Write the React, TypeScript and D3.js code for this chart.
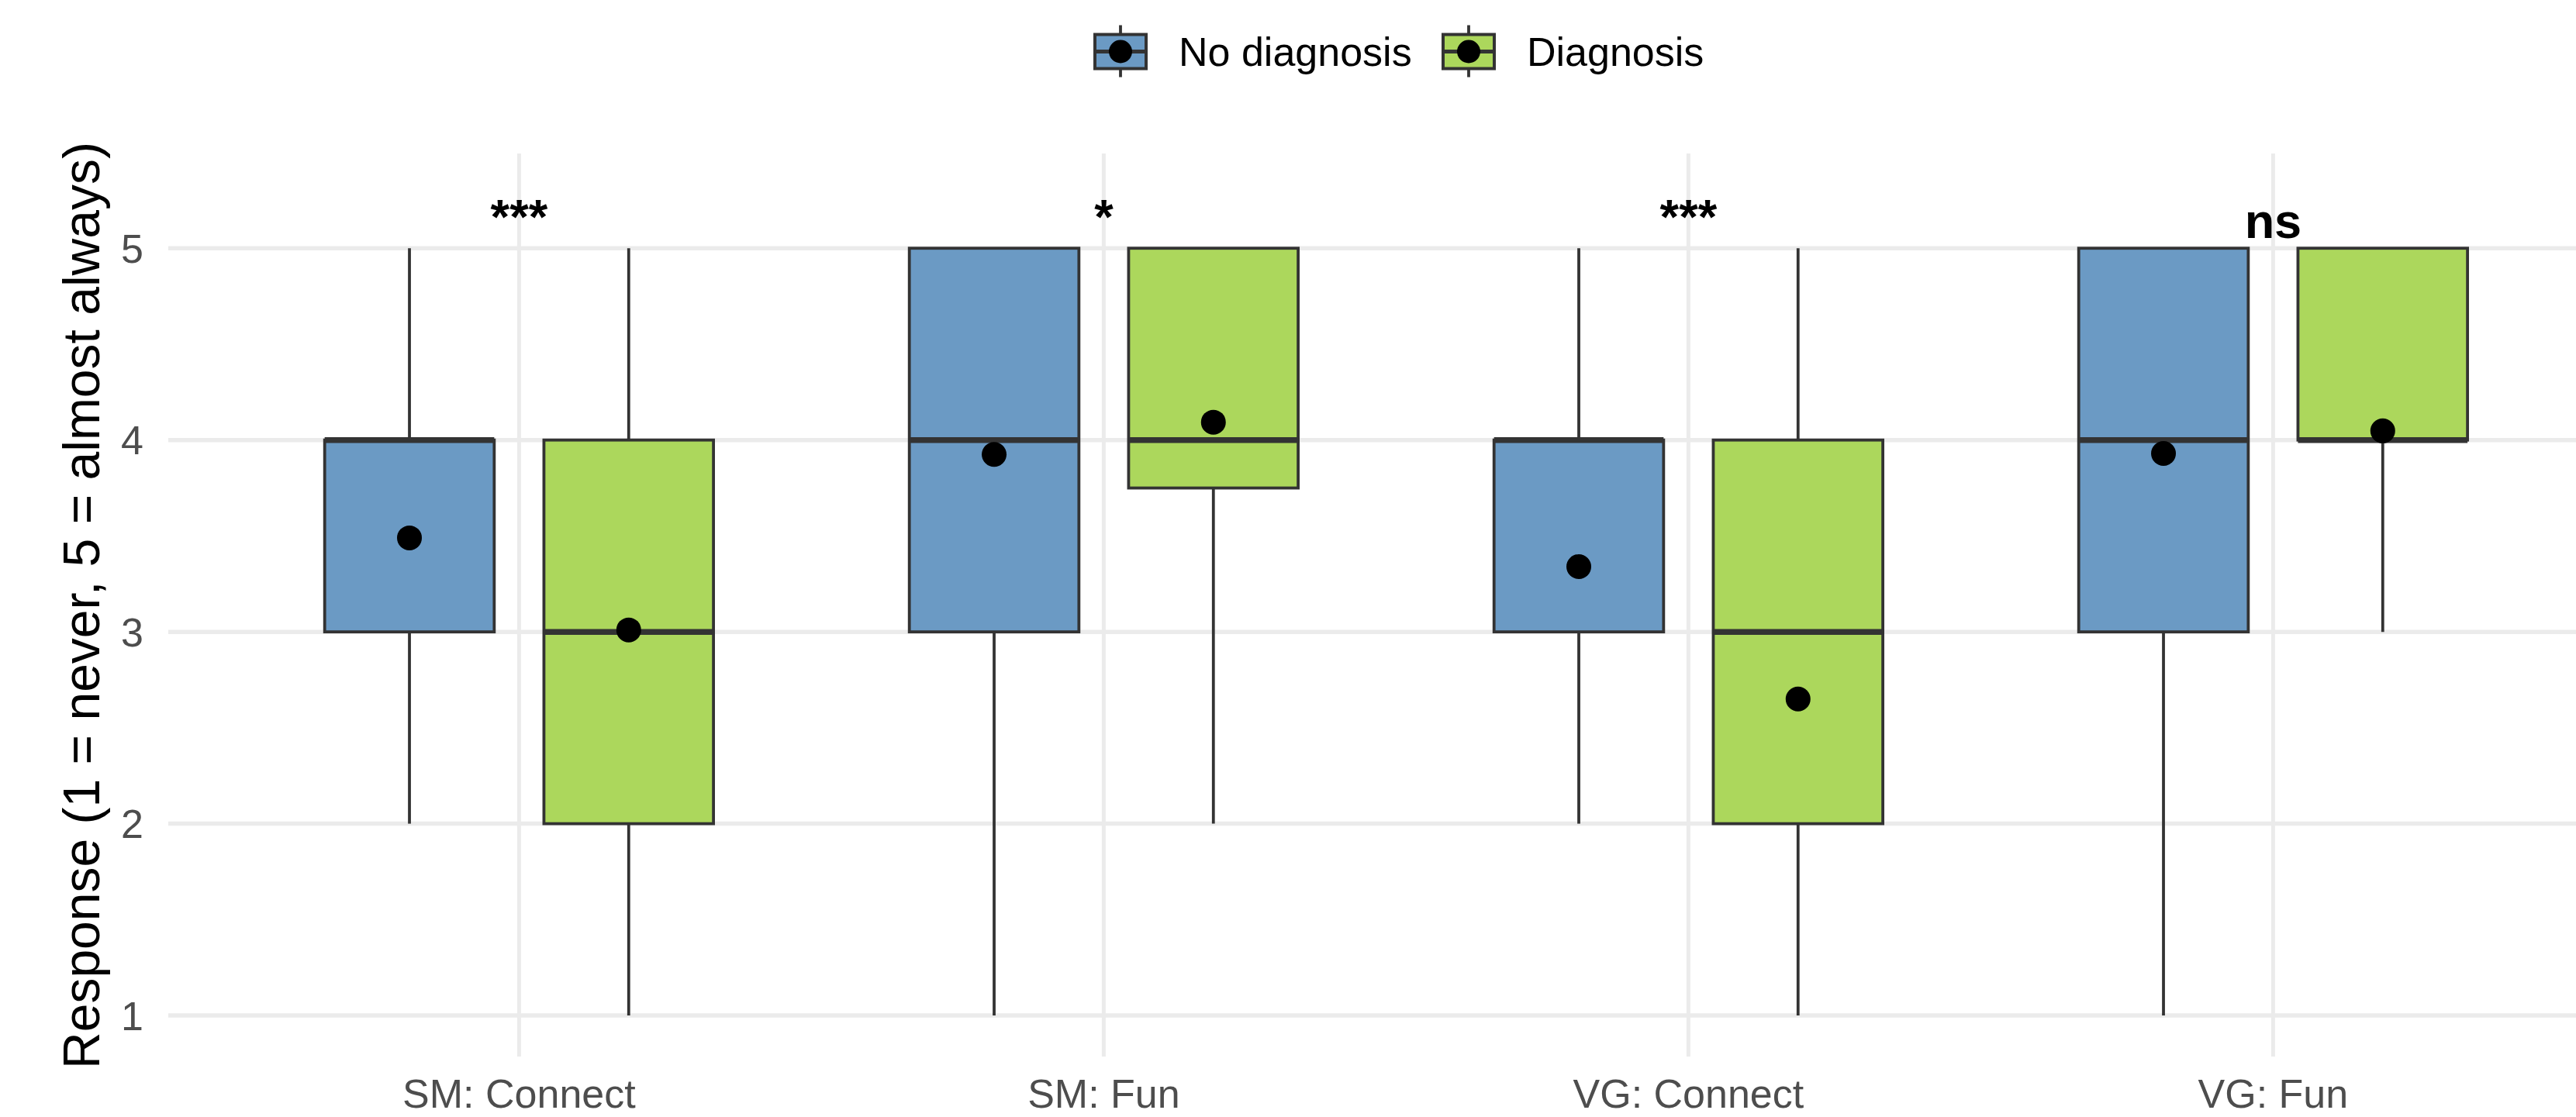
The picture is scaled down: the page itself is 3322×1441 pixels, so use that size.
import React from "react";
import * as d3 from "d3";

const categories = ["SM: Connect", "SM: Fun", "VG: Connect", "VG: Fun"];
const groups = ["No diagnosis", "Diagnosis"];
const groupColors = ["#6B9AC4", "#ACD75C"];

// No diagnosis series
const noDiagLow = [2, 1, 2, 1];
const noDiagQ1 = [3, 3, 3, 3];
const noDiagMedian = [4, 4, 4, 4];
const noDiagQ3 = [4, 5, 4, 5];
const noDiagHigh = [5, 5, 5, 5];
const noDiagMean = [3.49, 3.925, 3.34, 3.93];

// Diagnosis series
const diagLow = [1, 2, 1, 3];
const diagQ1 = [2, 3.75, 2, 4];
const diagMedian = [3, 4, 3, 4];
const diagQ3 = [4, 5, 4, 5];
const diagHigh = [5, 5, 5, 5];
const diagMean = [3.01, 4.093, 2.65, 4.048];

const sigLabels = ["***", "*", "***", "ns"];
const sigY = 5.055;
const yTicks = [1, 2, 3, 4, 5];
const yTitle = "Response (1 = never, 5 = almost always)";

const W = 3322;
const H = 1441;
const FONT = "'Liberation Sans', Arial, Helvetica, sans-serif";

export default function App() {
  const panelLeft = 217;
  const unit = 754;
  const panelTop = 198;
  const panelBottom = 1363;

  const x = d3.scaleLinear().domain([0.4, 4.6]).range([panelLeft, panelLeft + 4.2 * unit]);
  const y = d3.scaleLinear().domain([0.786, 5.494]).range([panelBottom, panelTop]);

  const dodge = 0.1875;
  const boxW = 0.29;

  const series = [
    { low: noDiagLow, q1: noDiagQ1, med: noDiagMedian, q3: noDiagQ3, high: noDiagHigh, mean: noDiagMean },
    { low: diagLow, q1: diagQ1, med: diagMedian, q3: diagQ3, high: diagHigh, mean: diagMean },
  ];

  const gridColor = "#EBEBEB";
  const lineColor = "#333333";

  const legendX = [1412, 1861];
  const legendCy = 66.5;

  return (
    <svg
      width={W}
      height={H}
      style={{ position: "absolute", left: 0, top: 0, display: "block", background: "#fff" }}
      fontFamily={FONT}
    >
      <rect x={0} y={0} width={W} height={H} fill="#fff" />
      {/* gridlines */}
      {yTicks.map((t) => (
        <line key={"gy" + t} x1={panelLeft} x2={W} y1={y(t)} y2={y(t)} stroke={gridColor} strokeWidth={5.5} />
      ))}
      {categories.map((c, i) => (
        <line key={"gx" + c} x1={x(i + 1)} x2={x(i + 1)} y1={panelTop} y2={panelBottom} stroke={gridColor} strokeWidth={5} />
      ))}

      {/* boxplots */}
      {series.map((s, gi) =>
        categories.map((c, i) => {
          const pos = i + 1 + (gi === 0 ? -dodge : dodge);
          const cx = x(pos);
          const x0 = x(pos - boxW / 2);
          const x1 = x(pos + boxW / 2);
          return (
            <g key={"b" + gi + "-" + i}>
              <line x1={cx} x2={cx} y1={y(s.q3[i])} y2={y(s.high[i])} stroke={lineColor} strokeWidth={3.8} />
              <line x1={cx} x2={cx} y1={y(s.q1[i])} y2={y(s.low[i])} stroke={lineColor} strokeWidth={3.8} />
              <rect
                x={x0}
                y={y(s.q3[i])}
                width={x1 - x0}
                height={y(s.q1[i]) - y(s.q3[i])}
                fill={groupColors[gi]}
                stroke={lineColor}
                strokeWidth={3.8}
              />
              <line x1={x0} x2={x1} y1={y(s.med[i])} y2={y(s.med[i])} stroke={lineColor} strokeWidth={7.5} />
              <circle cx={cx} cy={y(s.mean[i])} r={16} fill="#000" />
            </g>
          );
        })
      )}

      {/* significance labels */}
      {sigLabels.map((l, i) => (
        <text
          key={"s" + i}
          x={x(i + 1)}
          y={y(sigY)}
          dy={l.startsWith("*") ? -6 : 0}
          textAnchor="middle"
          fontSize={63}
          fontWeight="bold"
          fill="#000"
        >
          {l}
        </text>
      ))}

      {/* y tick labels */}
      {yTicks.map((t) => (
        <text key={"yt" + t} x={185} y={y(t)} dy="0.36em" textAnchor="end" fontSize={52} fill="#4D4D4D">
          {t}
        </text>
      ))}

      {/* x tick labels */}
      {categories.map((c, i) => (
        <text key={"xt" + c} x={x(i + 1)} y={1429} textAnchor="middle" fontSize={52} fill="#4D4D4D">
          {c}
        </text>
      ))}

      {/* y title */}
      <text transform={`translate(128, 781) rotate(-90)`} textAnchor="middle" fontSize={66} fill="#000">
        {yTitle}
      </text>

      {/* legend */}
      {groups.map((g, gi) => {
        const kx = legendX[gi];
        const kw = 66;
        const kcx = kx + kw / 2;
        return (
          <g key={"lg" + g}>
            <line x1={kcx} x2={kcx} y1={legendCy - 34} y2={legendCy + 33} stroke={lineColor} strokeWidth={3.8} />
            <rect x={kx} y={legendCy - 22} width={kw} height={44} fill={groupColors[gi]} stroke={lineColor} strokeWidth={4} />
            <line x1={kx} x2={kx + kw} y1={legendCy} y2={legendCy} stroke={lineColor} strokeWidth={5} />
            <circle cx={kcx} cy={legendCy} r={15} fill="#000" />
            <text x={kx + kw + 42} y={legendCy + 18.5} fontSize={52} fill="#000">
              {g}
            </text>
          </g>
        );
      })}
    </svg>
  );
}
